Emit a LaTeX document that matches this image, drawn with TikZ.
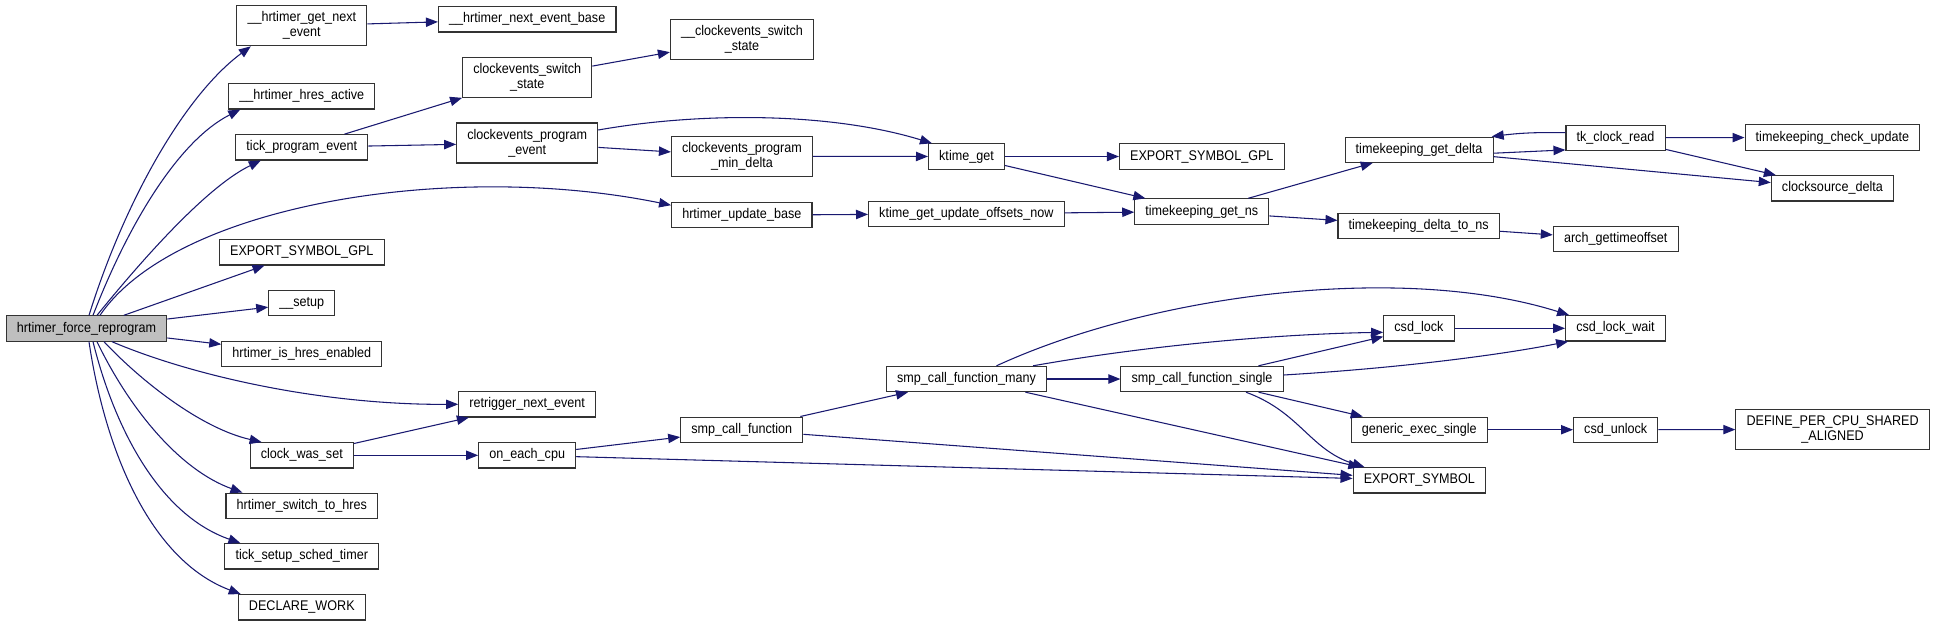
\documentclass[tikz,border=0pt]{standalone}
\usepackage{fontspec}
\setmainfont{Liberation Sans}[FakeStretch=0.9]
\usetikzlibrary{arrows.meta, calc}
\definecolor{edgeblue}{RGB}{25,25,112}

\begin{document}
\begin{tikzpicture}[
  x=0.75pt, y=-0.75pt,
  fn/.style={rectangle, draw=black!80, line width=0.8pt, fill=white, minimum height=19pt, inner xsep=8pt, inner ysep=2pt, align=center, font=\fontsize{10.5}{11.25}\selectfont},
  fntwo/.style={fn, minimum height=30pt},
  root/.style={fn, fill=black!25},
  call/.style={-{Triangle[length=9pt,width=7pt]}, edgeblue, line width=0.8pt}
]
\useasboundingbox (0,0) rectangle (1941,626);

% root
\node[root] (force) at (86.5,328.5) {hrtimer\_force\_reprogram};

% first level
\node[fntwo] (getnext) at (301.8,25.8) {\_\_hrtimer\_get\_next\\\_event};
\node[fn] (hresactive) at (301.8,96.3) {\_\_hrtimer\_hres\_active};
\node[fn] (tickprog) at (301.8,147.3) {tick\_program\_event};
\node[fn] (gplA) at (301.8,252.3) {EXPORT\_SYMBOL\_GPL};
\node[fn] (setup) at (301.8,303.2) {\_\_setup};
\node[fn] (ishres) at (301.8,353.7) {hrtimer\_is\_hres\_enabled};
\node[fn] (clockwasset) at (301.8,455.3) {clock\_was\_set};
\node[fn] (switchhres) at (301.8,505.8) {hrtimer\_switch\_to\_hres};
\node[fn] (ticksetup) at (301.8,556.3) {tick\_setup\_sched\_timer};
\node[fn] (declwork) at (301.8,607.3) {DECLARE\_WORK};

% second level
\node[fn] (nextbase) at (527.2,19.3) {\_\_hrtimer\_next\_event\_base};
\node[fntwo] (cesswitch) at (527.2,77.8) {clockevents\_switch\\\_state};
\node[fntwo] (ceprog) at (527.2,143) {clockevents\_program\\\_event};
\node[fn] (retrigger) at (527.2,404.3) {retrigger\_next\_event};
\node[fn] (oneach) at (527.2,455.3) {on\_each\_cpu};

% third level
\node[fntwo] (uswitch) at (742,39.2) {\_\_clockevents\_switch\\\_state};
\node[fntwo] (mindelta) at (742,156.3) {clockevents\_program\\\_min\_delta};
\node[fn] (updbase) at (741.8,215.2) {hrtimer\_update\_base};
\node[fn] (smpcall) at (741.8,429.7) {smp\_call\_function};

% fourth level
\node[fn] (ktimeget) at (966.5,156.5) {ktime\_get};
\node[fn] (offsets) at (966.3,213.8) {ktime\_get\_update\_offsets\_now};
\node[fn] (smpmany) at (966.5,379) {smp\_call\_function\_many};

% fifth level
\node[fn] (gplB) at (1201.8,156.5) {EXPORT\_SYMBOL\_GPL};
\node[fn] (getns) at (1201.8,211.5) {timekeeping\_get\_ns};
\node[fn] (smpsingle) at (1202,379) {smp\_call\_function\_single};

% sixth level
\node[fn] (getdelta) at (1419.1,149.7) {timekeeping\_get\_delta};
\node[fn] (deltans) at (1418.7,225.7) {timekeeping\_delta\_to\_ns};
\node[fn] (csdlock) at (1418.9,328.3) {csd\_lock};
\node[fn] (genexec) at (1419.3,429.7) {generic\_exec\_single};
\node[fn] (exportsym) at (1419.3,480.3) {EXPORT\_SYMBOL};

% seventh level
\node[fn] (clockread) at (1615.5,137.7) {tk\_clock\_read};
\node[fn] (archoff) at (1615.7,239.2) {arch\_gettimeoffset};
\node[fn] (csdwait) at (1615.5,328.3) {csd\_lock\_wait};
\node[fn] (csdunlock) at (1615.7,429.7) {csd\_unlock};

% last level
\node[fn] (checkupd) at (1832.4,137.5) {timekeeping\_check\_update};
\node[fn] (csdelta) at (1832.4,188.3) {clocksource\_delta};
\node[fntwo] (defcpu) at (1832.6,429.5) {DEFINE\_PER\_CPU\_SHARED\\\_ALIGNED};

% calls of the root
\draw[call] ($(force.north)+(2.5,0)$) .. controls (125,200) and (185,95) .. ($(getnext.south)+(-51,0)$);
\draw[call] ($(force.north)+(6.5,0)$) .. controls (130,220) and (180,140) .. ($(hresactive.south west)+(12,0)$);
\draw[call] ($(force.north)+(10.5,0)$) .. controls (150,250) and (210,185) .. ($(tickprog.south)+(-41,0)$);
\draw[call] ($(force.north)+(13.5,0)$) .. controls (175,205) and (450,160) .. ($(updbase.west)+(0,-10)$);
\draw[call] (force) -- (gplA);
\draw[call] (force) -- (setup);
\draw[call] (force) -- (ishres);
\draw[call] ($(force.south)+(25.5,0)$) .. controls (190,375) and (320,405) .. (retrigger.west);
\draw[call] ($(force.south)+(17.5,0)$) .. controls (140,380) and (200,428) .. ($(clockwasset.north west)+(12,0)$);
\draw[call] ($(force.south)+(10.5,0)$) .. controls (130,410) and (180,470) .. ($(switchhres.north west)+(17,0)$);
\draw[call] ($(force.south)+(6.5,0)$) .. controls (115,430) and (160,515) .. ($(ticksetup.north west)+(16,0)$);
\draw[call] ($(force.south)+(2.5,0)$) .. controls (105,450) and (150,560) .. ($(declwork.north west)+(3,0)$);

% upper branch
\draw[call] (getnext) -- (nextbase);
\draw[call] (tickprog) -- (cesswitch);
\draw[call] (tickprog) -- (ceprog);
\draw[call] (cesswitch) -- (uswitch);
\draw[call] ($(ceprog.east)+(0,-13)$) .. controls (700,112) and (830,112) .. ($(ktimeget.north west)+(4,0)$);
\draw[call] (ceprog) -- (mindelta);
\draw[call] (mindelta) -- (ktimeget);
\draw[call] (updbase) -- (offsets);
\draw[call] (ktimeget) -- (gplB);
\draw[call] (ktimeget) -- (getns);
\draw[call] (offsets) -- (getns);
\draw[call] (getns) -- (getdelta);
\draw[call] (getns) -- (deltans);
\draw[call] ($(getdelta.east)+(0,3.5)$) -- ($(clockread.south west)+(0,-1)$);
\draw[call] ($(clockread.west)+(0,-5)$) to[bend right=4] ($(getdelta.north east)+(-2,0)$);
\draw[call] (getdelta) -- (csdelta);
\draw[call] (clockread) -- (checkupd);
\draw[call] (clockread) -- (csdelta);
\draw[call] (deltans) -- (archoff);

% lower branch
\draw[call] (clockwasset) -- (retrigger);
\draw[call] (clockwasset) -- (oneach);
\draw[call] (oneach) -- (smpcall);
\draw[call] (oneach) -- (exportsym);
\draw[call] (smpcall) -- (smpmany);
\draw[call] (smpcall) -- (exportsym);
\draw[call] (smpmany) -- (smpsingle);
\draw[call] (smpmany) -- (exportsym);
\draw[call] ($(smpmany.north)+(30,0)$) .. controls (1150,295) and (1400,262) .. ($(csdwait.north west)+(4,0)$);
\draw[call] ($(smpmany.north east)+(-14,0)$) .. controls (1150,345) and (1280,334) .. ($(csdlock.west)+(0,4)$);
\draw[call] (smpsingle) -- (csdlock);
\draw[call] ($(smpsingle.east)+(0,-4)$) .. controls (1400,368) and (1500,355) .. ($(csdwait.south west)+(3,0)$);
\draw[call] (smpsingle) -- (genexec);
\draw[call] ($(smpsingle.south)+(44,0)$) .. controls (1300,412) and (1310,450) .. ($(exportsym.north west)+(12,0)$);
\draw[call] (csdlock) -- (csdwait);
\draw[call] (genexec) -- (csdunlock);
\draw[call] (csdunlock) -- (defcpu);

\end{tikzpicture}
\end{document}
